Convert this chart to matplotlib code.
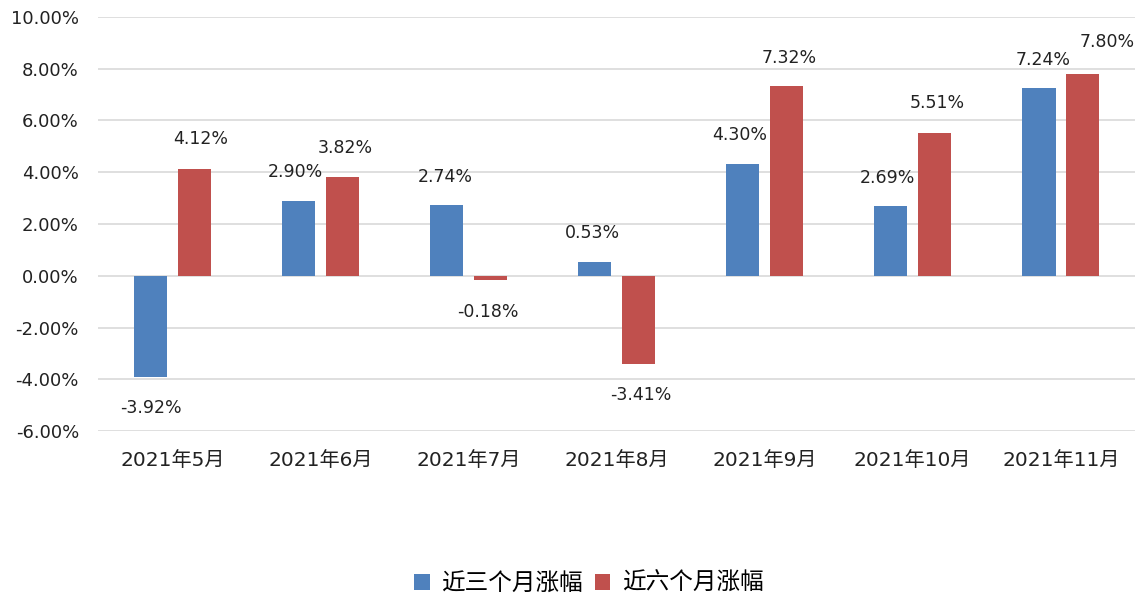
import matplotlib
matplotlib.use("Agg")
import matplotlib.pyplot as plt
import numpy as np

plt.rcParams['font.family'] = ['DejaVu Sans', 'Noto Sans CJK SC']

months = ['2021年5月', '2021年6月', '2021年7月', '2021年8月', '2021年9月', '2021年10月', '2021年11月']
chg_3m = [-3.92, 2.90, 2.74, 0.53, 4.30, 2.69, 7.24]
chg_6m = [4.12, 3.82, -0.18, -3.41, 7.32, 5.51, 7.80]
yticks = np.arange(-6, 11, 2)

blue = '#4F81BD'
red = '#C0504D'

fig = plt.figure(figsize=(11.44, 6.03), dpi=100)
ax = fig.add_axes([0.086, 0.285, 0.906, 0.687])

x = np.arange(len(months))
w = 0.225
off = 0.148
b1 = ax.bar(x - off, chg_3m, w, color=blue, label='近三个月涨幅', zorder=3)
b2 = ax.bar(x + off, chg_6m, w, color=red, label='近六个月涨幅', zorder=3)

def put_labels(vals, xs, dx_list, dy_list):
    for xi, v, dx, dy in zip(xs, vals, dx_list, dy_list):
        ax.annotate(f'{v:.2f}%', (xi, v), xytext=(dx, dy), textcoords='offset pixels',
                    ha='center', va='center', fontsize=12.5, color='#222222')

put_labels(chg_3m, x - off, [0, -3, -1, -2, -3, -3, 4], [-31, 29, 28, 29, 29, 28, 28])
put_labels(chg_6m, x + off, [6, 3, -3, 2, 3, 3, 24], [30, 29, -32, -31, 28, 30, 32])

ax.set_xlim(-0.5, len(months) - 0.5)
ax.set_ylim(-6, 10)
ax.set_yticks(yticks)
ax.set_yticklabels([f'{t:.2f}%' for t in yticks], fontsize=13)
ax.set_xticks(x)
ax.set_xticklabels(months, fontsize=14.5)
ax.tick_params(axis='both', length=0, colors='#222222')
ax.tick_params(axis='x', pad=14)
ax.tick_params(axis='y', pad=14)
ax.grid(axis='y', color='#D9D9D9', linewidth=1.2, zorder=0)
for s in ax.spines.values():
    s.set_visible(False)

fig.legend(handles=[b1, b2], loc='center', bbox_to_anchor=(0.515, 0.033), ncol=2,
           frameon=False, fontsize=17, handlelength=0.65, handleheight=0.65,
           handletextpad=0.5, columnspacing=0.5)

fig.savefig('out.png', dpi=100)
